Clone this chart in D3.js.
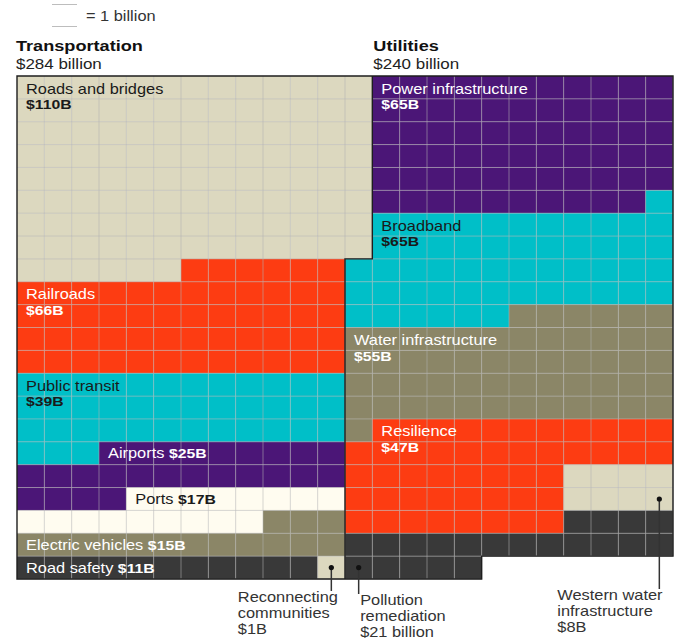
<!DOCTYPE html>
<html>
<head>
<meta charset="utf-8">
<script src="https://cdn.jsdelivr.net/npm/d3@7"></script>
<style>
  body { margin: 0; background: #fff; }
  text { font-family: "Liberation Sans", Arial, Helvetica, sans-serif; }
</style>
</head>
<body>
<div id="chart"></div>
<script>
// values in $ billion as printed on the chart
var transportNames = ["Roads and bridges", "Railroads", "Public transit", "Airports", "Ports",
                      "Electric vehicles", "Road safety", "Reconnecting communities"];
var transportValues = [110, 66, 39, 25, 17, 15, 11, 1];
// squares actually drawn in the graphic (railroads shows one row fewer than its label)
var transportCells = [110, 54, 39, 25, 17, 15, 11, 1];

var utilityNames = ["Power infrastructure", "Broadband", "Water infrastructure", "Resilience",
                    "Western water infrastructure", "Pollution remediation"];
var utilityValues = [65, 65, 55, 47, 8, 21];
var utilityCells = [65, 53, 55, 47, 8, 21];

var sectionNames = ["Transportation", "Utilities"];
var sectionTotals = ["$284 billion", "$240 billion"];

var calloutNames = ["Reconnecting communities", "Pollution remediation", "Western water infrastructure"];
var calloutText = [["Reconnecting", "communities", "$1B"],
                   ["Pollution", "remediation", "$21 billion"],
                   ["Western water", "infrastructure", "$8B"]];

var palette = {
  beige: "#dcd8bf", red: "#fd3c12", cyan: "#00bfc8", purple: "#4b1677",
  cream: "#fffcf0", olive: "#8b8667", dark: "#393939"
};
var color = d3.scaleOrdinal()
  .domain(transportNames.concat(utilityNames))
  .range([palette.beige, palette.red, palette.cyan, palette.purple, palette.cream,
          palette.olive, palette.dark, palette.beige,
          palette.purple, palette.cyan, palette.olive, palette.red, palette.beige, palette.dark]);

const width = 675, height = 640;
const SX = 1.17; // the graphic is stretched sideways, text included

const svg = d3.select("#chart").append("svg")
  .attr("width", width).attr("height", height);

// 24 columns x 22 rows, one square = $1 billion
const x = d3.scaleBand().domain(d3.range(24)).range([17, 673]);
const y = d3.scaleBand().domain(d3.range(22)).range([76, 579]);

// which columns each section owns (top 8 rows, then the rest),
// plus blocks that are set aside before the row-by-row fill
const sections = [
  { names: transportNames, values: transportValues, cells: transportCells,
    spans: function(r) { return r < 8 ? [0, 13] : [0, 12]; }, blocks: [] },
  { names: utilityNames, values: utilityValues, cells: utilityCells,
    spans: function(r) { return r < 8 ? [13, 24] : [12, 24]; },
    blocks: [{ name: "Western water infrastructure", rows: [17, 19], cols: [20, 24] }] }
];

function txt(g, tx, ty) {
  return g.append("text").attr("transform", "translate(" + tx + "," + ty + ") scale(" + SX + ",1)");
}

var allCells = [];
var owner = {};
sections.forEach(function(s, si) {
  var slots = [];
  y.domain().forEach(function(r) {
    var sp = s.spans(r);
    for (var c = sp[0]; c < sp[1]; c++) {
      var b = s.blocks.find(b => r >= b.rows[0] && r < b.rows[1] && c >= b.cols[0] && c < b.cols[1]);
      slots.push({ r: r, c: c, block: b ? b.name : null });
    }
  });
  var free = slots.filter(d => !d.block);
  var k = 0;
  s.cells.forEach(function(n, ci) {
    var name = s.names[ci];
    var pool = s.blocks.some(b => b.name === name) ? slots.filter(d => d.block === name) : null;
    for (var i = 0; i < n; i++) {
      var cell = pool ? pool[i] : free[k++];
      cell.sec = si; cell.name = name; cell.idx = i;
      allCells.push(cell);
      owner[cell.r + "," + cell.c] = si;
    }
  });
});

// squares
svg.append("g").selectAll("rect")
  .data(allCells).enter().append("rect")
  .attr("x", d => x(d.c)).attr("y", d => y(d.r))
  .attr("width", x.bandwidth()).attr("height", y.bandwidth())
  .attr("fill", d => color(d.name));

// thin grid lines (right and bottom edge of every square)
var grid = "";
allCells.forEach(function(d) {
  var x0 = x(d.c), y0 = y(d.r), x1 = x0 + x.bandwidth(), y1 = y0 + y.bandwidth();
  grid += "M" + x1 + "," + y0 + "V" + y1 + "M" + x0 + "," + y1 + "H" + x1;
});
svg.append("path").attr("d", grid)
  .attr("fill", "none").attr("stroke", "#b4b4b4").attr("stroke-opacity", 0.55).attr("stroke-width", 1);

// section outlines
var outline = "";
allCells.forEach(function(d) {
  var x0 = x(d.c), y0 = y(d.r), x1 = x0 + x.bandwidth(), y1 = y0 + y.bandwidth();
  var same = (r, c) => owner[r + "," + c] === d.sec;
  if (!same(d.r - 1, d.c)) outline += "M" + x0 + "," + y0 + "H" + x1;
  if (!same(d.r + 1, d.c)) outline += "M" + x0 + "," + y1 + "H" + x1;
  if (!same(d.r, d.c - 1)) outline += "M" + x0 + "," + y0 + "V" + y1;
  if (!same(d.r, d.c + 1)) outline += "M" + x1 + "," + y0 + "V" + y1;
});
svg.append("path").attr("d", outline)
  .attr("fill", "none").attr("stroke", "#1e1e1e").attr("stroke-width", 1.4)
  .attr("stroke-linecap", "square");

// section headers
sections.forEach(function(s, si) {
  var hx = x(s.spans(0)[0]) + (si ? 1 : -1);
  txt(svg, hx, 51).attr("font-size", 15.5).attr("font-weight", "bold").attr("fill", "#111")
    .text(sectionNames[si]);
  txt(svg, hx, 68.5).attr("font-size", 14.5).attr("fill", "#222").text(sectionTotals[si]);
});

// legend
var lg = svg.append("g");
lg.append("path").attr("d", "M52,4.5H77M52,26.5H77")
  .attr("stroke", "#bdbdbd").attr("stroke-width", 1);
txt(lg, 86, 21).attr("font-size", 14).attr("fill", "#333").text("= 1 billion");

// labels inside the squares
var labels = svg.append("g");
sections.forEach(function(s) {
  s.names.forEach(function(name, i) {
    if (calloutNames.indexOf(name) >= 0) return;
    var cells = allCells.filter(d => d.name === name);
    var rows = d3.groups(cells, d => d.r);
    var anchor = rows[0][1].length >= 8 ? rows[0][1][0] : rows[1][1][0];
    var fill = d3.lab(color(name)).l > 70 ? "#1a1a1a" : "#fff";
    var lx = x(anchor.c) + 9, ly = y(anchor.r);
    if (s.cells[i] >= 30) {
      txt(labels, lx, ly + 17.5).attr("font-size", 14).attr("fill", fill).text(name);
      txt(labels, lx, ly + 33).attr("font-size", 13.5).attr("font-weight", "bold")
        .attr("fill", fill).text("$" + s.values[i] + "B");
    } else {
      var t = txt(labels, lx, ly + 16.5).attr("font-size", 14).attr("fill", fill);
      t.append("tspan").text(name + " ");
      t.append("tspan").attr("font-weight", "bold").attr("font-size", 13.5).text("$" + s.values[i] + "B");
    }
  });
});

// callouts below the grid
var calloutCell = [0, 16, 7];
var calloutDx = [-93.5, 1.5, -102];
var calloutBase = [602, 605, 600];
var co = svg.append("g");
calloutNames.forEach(function(name, i) {
  var cell = allCells.filter(d => d.name === name)[calloutCell[i]];
  var cx = x(cell.c) + x.bandwidth() / 2, cy = y(cell.r) + y.bandwidth() / 2;
  co.append("line").attr("x1", cx).attr("x2", cx).attr("y1", cy).attr("y2", calloutBase[i] - 11)
    .attr("stroke", "#333").attr("stroke-width", 1.5);
  co.append("circle").attr("cx", cx).attr("cy", cy).attr("r", 2.6).attr("fill", "#111");
  calloutText[i].forEach(function(line, j) {
    txt(co, cx + calloutDx[i], calloutBase[i] + j * 16).attr("font-size", 14).attr("fill", "#333").text(line);
  });
});
</script>
</body>
</html>
